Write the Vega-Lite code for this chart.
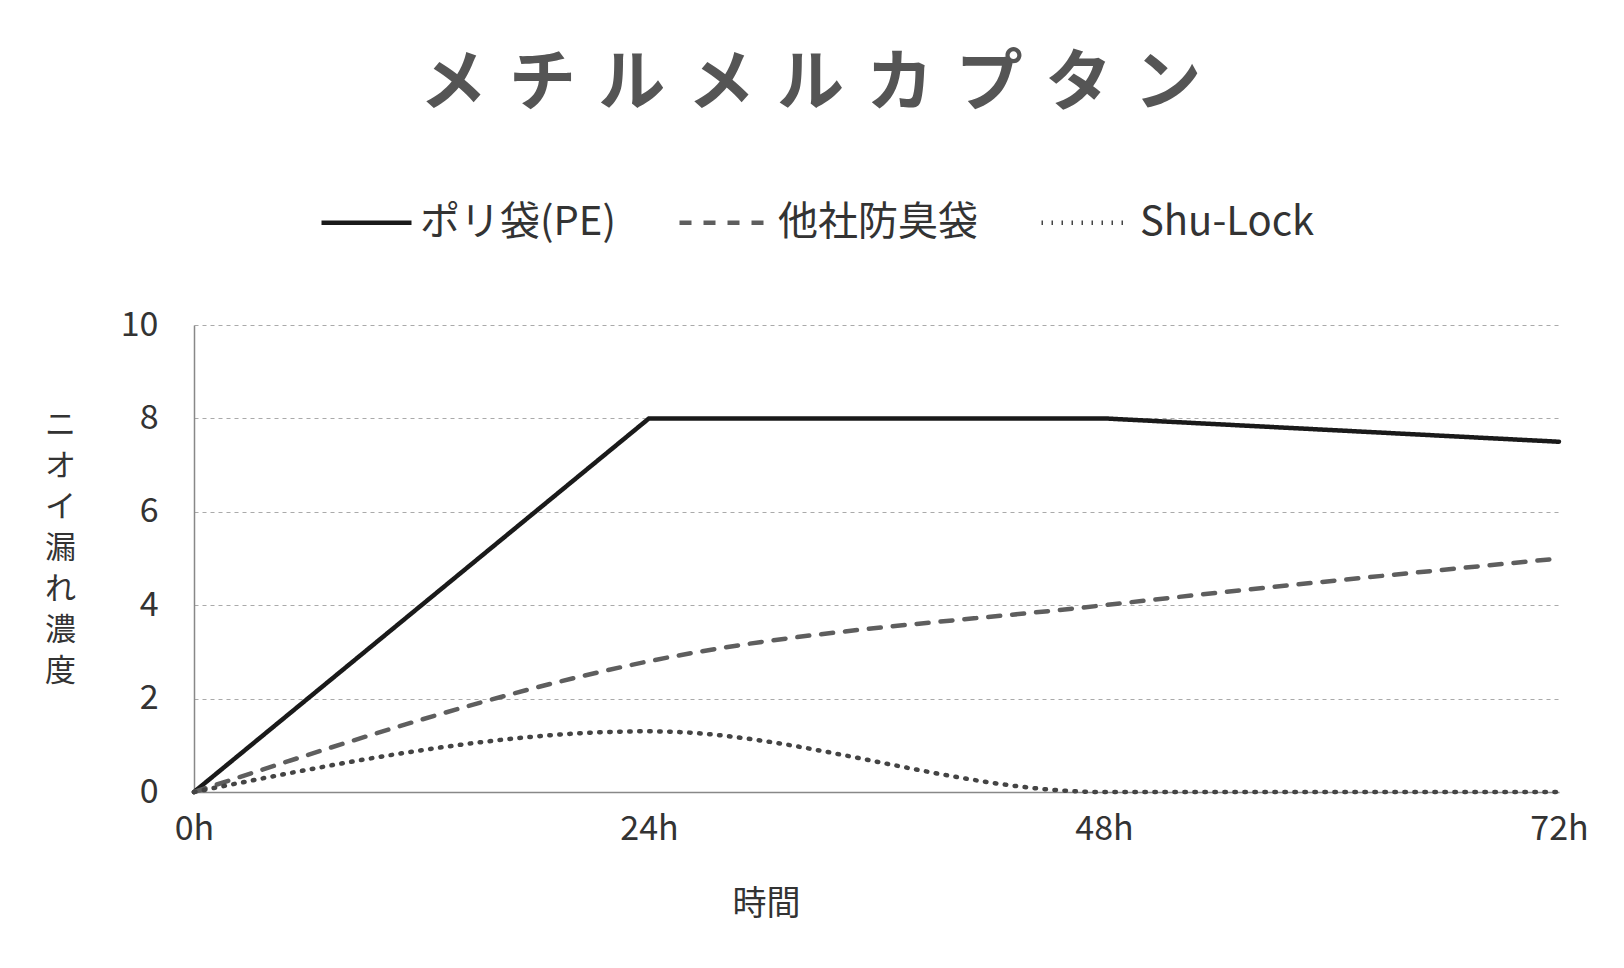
{
  "$schema": "https://vega.github.io/schema/vega-lite/v6.json",
  "width": 1365,
  "height": 467,
  "autosize": {"type": "none"},
  "padding": {"left": 194, "top": 325, "right": 65, "bottom": 176},
  "background": "white",
  "title": {
    "text": "メ\u2004チ\u2004ル\u2004メ\u2004ル\u2004カ\u2004プ\u2004タ\u2004ン",
    "font": "Noto Sans CJK JP",
    "fontSize": 67,
    "fontWeight": "bold",
    "color": "#555555",
    "anchor": "middle",
    "dx": -66,
    "offset": 56
  },
  "config": {
    "view": {"stroke": null},
    "font": "Noto Sans CJK JP"
  },
  "data": {
    "values": [
      {"time": "0h", "series": "ポリ袋(PE)", "value": 0},
      {"time": "24h", "series": "ポリ袋(PE)", "value": 8},
      {"time": "48h", "series": "ポリ袋(PE)", "value": 8},
      {"time": "72h", "series": "ポリ袋(PE)", "value": 7.5},
      {"time": "0h", "series": "他社防臭袋", "value": 0},
      {"time": "24h", "series": "他社防臭袋", "value": 2.8},
      {"time": "48h", "series": "他社防臭袋", "value": 4},
      {"time": "72h", "series": "他社防臭袋", "value": 5},
      {"time": "0h", "series": "Shu-Lock", "value": 0},
      {"time": "24h", "series": "Shu-Lock", "value": 1.3},
      {"time": "48h", "series": "Shu-Lock", "value": 0},
      {"time": "72h", "series": "Shu-Lock", "value": 0}
    ]
  },
  "encoding": {
    "x": {
      "field": "time",
      "type": "ordinal",
      "sort": ["0h", "24h", "48h", "72h"],
      "scale": {"type": "point", "padding": 0},
      "axis": {
        "title": "時間",
        "titleFont": "Noto Sans CJK JP",
        "titleFontSize": 34,
        "titleFontWeight": "normal",
        "titleColor": "#333333",
        "titleX": 572,
        "titleY": 112,
        "titleBaseline": "middle",
        "titleAlign": "center",
        "labelAngle": 0,
        "labelFontSize": 34,
        "labelColor": "#333333",
        "labelPadding": 20,
        "ticks": false,
        "grid": false,
        "domainColor": "#888888",
        "domainWidth": 1.5
      }
    },
    "y": {
      "field": "value",
      "type": "quantitative",
      "scale": {"domain": [0, 10]},
      "axis": {
        "title": ["ニ", "オ", "イ", "漏", "れ", "濃", "度"],
        "titleFont": "Noto Sans CJK JP",
        "titleFontSize": 31,
        "titleFontWeight": "normal",
        "titleColor": "#333333",
        "titleAngle": 0,
        "titleLineHeight": 41,
        "titleX": -134,
        "titleY": 85,
        "titleAlign": "center",
        "titleBaseline": "top",
        "values": [0, 2, 4, 6, 8, 10],
        "labelFontSize": 34,
        "labelColor": "#333333",
        "labelPadding": 36,
        "ticks": false,
        "gridColor": "#aaaaaa",
        "gridDash": [4, 4],
        "gridWidth": 1.2,
        "domainColor": "#888888",
        "domainWidth": 1.5
      }
    },
    "color": {
      "field": "series",
      "type": "nominal",
      "scale": {
        "domain": ["ポリ袋(PE)", "他社防臭袋", "Shu-Lock"],
        "range": ["#1a1a1a", "#5e5e5e", "#444444"]
      },
      "legend": {
        "title": null,
        "orient": "none",
        "direction": "horizontal",
        "legendX": 125,
        "legendY": -150,
        "symbolType": "stroke",
        "symbolSize": 8100,
        "symbolStrokeWidth": 4.5,
        "labelFontSize": 40,
        "labelColor": "#333333",
        "labelOffset": 6,
        "columnPadding": 54,
        "labelLimit": 400
      }
    },
    "strokeDash": {
      "field": "series",
      "type": "nominal",
      "scale": {
        "domain": ["ポリ袋(PE)", "他社防臭袋", "Shu-Lock"],
        "range": [[1, 0], [12, 12], [1.5, 8.5]]
      },
      "legend": {
        "title": null,
        "orient": "none",
        "direction": "horizontal",
        "legendX": 125,
        "legendY": -150,
        "symbolType": "stroke",
        "symbolSize": 8100,
        "symbolStrokeWidth": 4.5,
        "labelFontSize": 40,
        "labelColor": "#333333",
        "labelOffset": 6,
        "columnPadding": 54,
        "labelLimit": 400
      }
    }
  },
  "layer": [
    {
      "transform": [{"filter": "datum.series == 'ポリ袋(PE)'"}],
      "mark": {"type": "line", "strokeWidth": 4.5, "strokeCap": "round", "interpolate": "linear"}
    },
    {
      "transform": [{"filter": "datum.series != 'ポリ袋(PE)'"}],
      "mark": {"type": "line", "strokeWidth": 4.5, "strokeCap": "round", "interpolate": "monotone"}
    }
  ]
}
